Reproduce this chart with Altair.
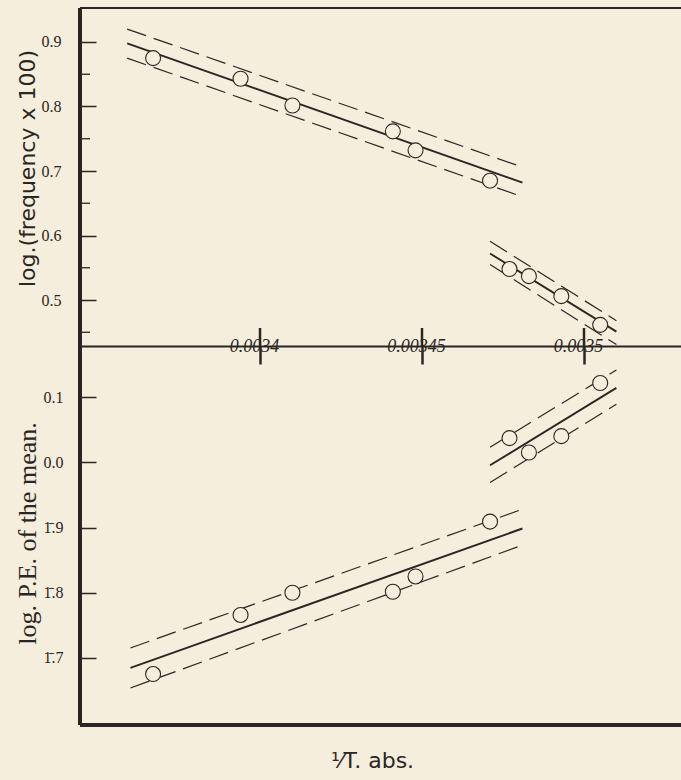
import altair as alt
import pandas as pd

# ---------------- data ----------------
# 1/T (abs.) of the ten observations
X_VALUES = [0.003367, 0.003394, 0.003410, 0.003441, 0.003448,
            0.003471, 0.003477, 0.003483, 0.003493, 0.003505]
# log.(frequency x 100)
FREQ = [0.875, 0.843, 0.8015, 0.7615, 0.732, 0.685, 0.548, 0.537, 0.506, 0.4615]
# log. P.E. of the mean (bar notation: 1̄.9 == -0.1)
PE = [-0.3246, -0.234, -0.200, -0.1985, -0.175, -0.091, 0.037, 0.015, 0.040, 0.1215]

# fitted lines (end points) and their dashed limits, two segments each
FREQ_FIT_X = [[0.003359, 0.003481], [0.003471, 0.003510]]
FREQ_FIT_MID = [[0.898, 0.682], [0.572, 0.451]]
FREQ_FIT_HI = [[0.920, 0.706], [0.591, 0.468]]
FREQ_FIT_LO = [[0.875, 0.660], [0.555, 0.431]]

PE_FIT_X = [[0.003360, 0.003481], [0.003471, 0.003510]]
PE_FIT_MID = [[-0.315, -0.1015], [-0.0046, 0.114]]
PE_FIT_HI = [[-0.2846, -0.072], [0.023, 0.1415]]
PE_FIT_LO = [[-0.346, -0.127], [-0.031, 0.089]]

# axis ticks and labels
X_TICKS = [0.0034, 0.00345, 0.0035]
X_TICK_LABELS = ["0.0034", "0.00345", "0.0035"]
FREQ_TICKS = [0.5, 0.6, 0.7, 0.8, 0.9]
FREQ_MINOR = [0.45, 0.55, 0.65, 0.75, 0.85]
PE_TICKS = [0.1, 0.0, -0.1, -0.2, -0.3]
PE_TICK_LABELS = ["0.1", "0.0", "1\u0304.9", "1\u0304.8", "1\u0304.7"]

X_DOMAIN = [0.00334444, 0.00352994]
FREQ_DOMAIN = [0.4287, 0.9527]
PE_DOMAIN = [-0.4027, 0.1782]

# ---------------- style ----------------
BG = "#f5eedd"
INK = "#2b2622"
W = 601
H1 = 338           # upper panel height
H = 717            # both panels
LABEL_FONT = "Liberation Serif"


def label_expr(values, labels):
    expr = "''"
    for v, l in reversed(list(zip(values, labels))):
        expr = f"abs(datum.value - ({v})) < 1e-9 ? '{l}' : ({expr})"
    return expr


def fit_frame(xs, mids, his, los):
    rows = []
    for i, (xx, m, h, lo) in enumerate(zip(xs, mids, his, los)):
        for kind, ys in (("mid", m), ("hi", h), ("lo", lo)):
            for x, y in zip(xx, ys):
                rows.append({"x": x, "y": y, "seg": f"{i}-{kind}", "kind": kind})
    return pd.DataFrame(rows)


pts_freq = pd.DataFrame({"x": X_VALUES, "y": FREQ})
pts_pe = pd.DataFrame({"x": X_VALUES, "y": PE})
fit_freq = fit_frame(FREQ_FIT_X, FREQ_FIT_MID, FREQ_FIT_HI, FREQ_FIT_LO)
fit_pe = fit_frame(PE_FIT_X, PE_FIT_MID, PE_FIT_HI, PE_FIT_LO)
xticks_df = pd.DataFrame({"x": X_TICKS})
minor_df = pd.DataFrame({"y": FREQ_MINOR})

# ---------------- axes ----------------
x_axis = alt.Axis(
    values=X_TICKS, orient="bottom", offset=-(H - H1), domain=True, domainColor=INK,
    domainWidth=1.8, ticks=True, tickSize=18, tickWidth=2.5, tickColor=INK,
    labelExpr=label_expr(X_TICKS, X_TICK_LABELS), labelPadding=-18,
    labelBaseline="middle", labelFont=LABEL_FONT, labelFontStyle="italic",
    labelFontSize=18, labelColor=INK, labelOffset=-6, labelFlush=False,
    labelOverlap=False, grid=False, title=None)

y_axis_freq = alt.Axis(
    values=FREQ_TICKS, orient="left", offset=-16, domain=False,
    ticks=True, tickSize=16, tickWidth=1.5, tickColor=INK,
    labelExpr="format(datum.value, '.1f')", labelPadding=19,
    labelFont=LABEL_FONT, labelFontSize=16, labelColor=INK, labelBaseline="middle",
    grid=False, title="log.(frequency x 100)", titleFont="DejaVu Sans",
    titleFontSize=22, titleFontWeight="normal", titleColor=INK,
    titleAngle=270, titleX=-69, titleY=160, titleBaseline="middle")

y_axis_pe = alt.Axis(
    values=PE_TICKS, orient="left", offset=-16, domain=False,
    ticks=True, tickSize=16, tickWidth=1.5, tickColor=INK,
    labelExpr=label_expr(PE_TICKS, PE_TICK_LABELS), labelPadding=17,
    labelFont=LABEL_FONT, labelFontSize=16, labelColor=INK, labelBaseline="middle",
    grid=False, title="log. P.E. of the mean.", titleFont=LABEL_FONT,
    titleFontSize=26, titleFontWeight="normal", titleColor=INK,
    titleAngle=270, titleX=-69, titleY=525, titleBaseline="middle")

XSCALE = alt.Scale(domain=X_DOMAIN, nice=False, zero=False)
SCALE_FREQ = alt.Scale(domain=FREQ_DOMAIN, range=[H1, 0], nice=False, zero=False)
SCALE_PE = alt.Scale(domain=PE_DOMAIN, range=[H, H1], nice=False, zero=False)


def xenc():
    return alt.X("x:Q", scale=XSCALE, axis=x_axis)


def panel_layers(pts, fit, yscale, yaxis):
    out = []
    out.append(alt.Chart(fit).transform_filter(alt.datum.kind == "mid").mark_line(
        color=INK, strokeWidth=1.9).encode(
        x=xenc(), y=alt.Y("y:Q", scale=yscale, axis=yaxis), detail="seg:N"))
    out.append(alt.Chart(fit).transform_filter(alt.datum.kind != "mid").mark_line(
        color=INK, strokeWidth=1.2, strokeDash=[20, 8]).encode(
        x=xenc(), y=alt.Y("y:Q", scale=yscale, axis=None), detail="seg:N"))
    out.append(alt.Chart(pts).mark_point(
        shape="circle", filled=True, size=225, color=BG, stroke=INK, strokeWidth=1.1,
        opacity=1).encode(x=xenc(), y=alt.Y("y:Q", scale=yscale, axis=None)))
    return out


layers = []
layers += panel_layers(pts_freq, fit_freq, SCALE_FREQ, y_axis_freq)
layers += panel_layers(pts_pe, fit_pe, SCALE_PE, y_axis_pe)
# minor ticks of the upper scale
layers.append(alt.Chart(minor_df).mark_rule(color=INK, strokeWidth=1.3).encode(
    y=alt.Y("y:Q", scale=SCALE_FREQ, axis=None), x=alt.value(0), x2=alt.value(10)))
# upward half of the 1/T ticks crossing the middle line
layers.append(alt.Chart(xticks_df).mark_rule(color=INK, strokeWidth=2.5).encode(
    x=xenc(), y=alt.value(H1 - 18), y2=alt.value(H1)))
# frame: left, top, bottom
layers.append(alt.Chart(xticks_df).mark_rule(color=INK, strokeWidth=4).encode(
    x=alt.value(0), y=alt.value(0), y2=alt.value(H)))
layers.append(alt.Chart(xticks_df).mark_rule(color=INK, strokeWidth=1.8).encode(
    x=alt.value(0), x2=alt.value(W), y=alt.value(0)))
layers.append(alt.Chart(xticks_df).mark_rule(color=INK, strokeWidth=3.5).encode(
    x=alt.value(0), x2=alt.value(W), y=alt.value(H)))

chart = alt.layer(*layers).resolve_scale(y="independent").resolve_axis(
    y="independent"
).properties(
    width=W, height=H,
    autosize=alt.AutoSizeParams(type="none"),
    padding={"left": 80, "top": 8, "right": 0, "bottom": 55},
    background=BG,
    title=alt.TitleParams(
        "\u00b9\u2044T. abs.", orient="bottom", frame="group", anchor="middle",
        offset=24, dx=-8, font="DejaVu Sans", fontSize=22, fontWeight="normal",
        color=INK),
).configure_view(stroke=None, fill=None)

chart.save("out.html", embed_options={"renderer": "svg", "actions": False})
